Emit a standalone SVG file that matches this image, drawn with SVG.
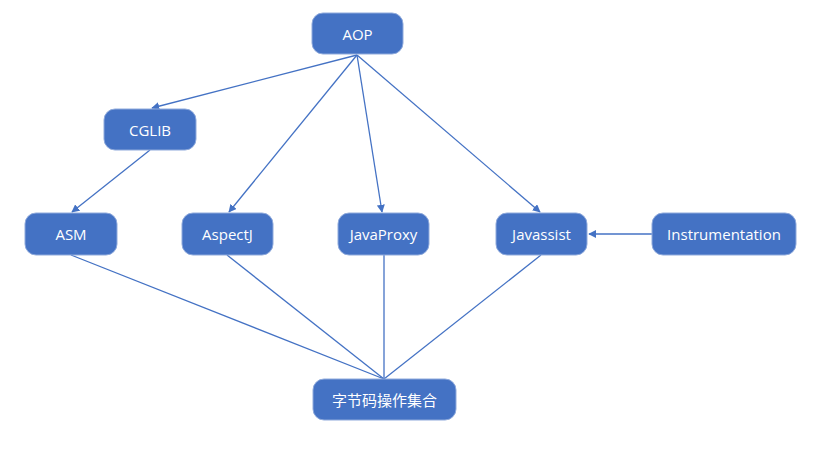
<svg xmlns="http://www.w3.org/2000/svg" width="822" height="452" viewBox="0 0 822 452">
<style>
.n rect{fill:#4472C4;stroke:#8FAADC;stroke-width:1}
.n text{fill:#fff;font-family:"Open Sans","Noto Sans","Noto Sans CJK SC",sans-serif;font-size:15px;text-anchor:middle;dominant-baseline:central}
.e line{stroke:#4472C4;stroke-width:1.3;fill:none}
</style>
<defs>
<marker id="a" viewBox="0 0 10 10" refX="9" refY="5" markerWidth="8" markerHeight="8" orient="auto" markerUnits="userSpaceOnUse">
<path d="M0,0 L10,5 L0,10 z" fill="#4472C4"/>
</marker>
</defs>
<rect width="822" height="452" fill="#fff"/>
<g class="e">
<line x1="357" y1="55" x2="152" y2="108" marker-end="url(#a)"/>
<line x1="357" y1="55" x2="229" y2="212" marker-end="url(#a)"/>
<line x1="357" y1="55" x2="382" y2="212" marker-end="url(#a)"/>
<line x1="357" y1="55" x2="540" y2="212" marker-end="url(#a)"/>
<line x1="150" y1="150" x2="72" y2="212" marker-end="url(#a)"/>
<line x1="652" y1="234" x2="589" y2="234" marker-end="url(#a)"/>
<line x1="71" y1="255" x2="384" y2="379"/>
<line x1="227" y1="255" x2="384" y2="379"/>
<line x1="384" y1="255" x2="384" y2="379"/>
<line x1="541" y1="255" x2="384" y2="379"/>
</g>
<g id="aop" class="n"><rect x="312" y="13" width="91" height="41" rx="11"/><text x="357.5" y="33.5">AOP</text></g>
<g id="cglib" class="n"><rect x="104" y="109" width="92" height="41" rx="11"/><text x="150" y="129.5">CGLIB</text></g>
<g id="asm" class="n"><rect x="25" y="213" width="92" height="42" rx="11"/><text x="71" y="234">ASM</text></g>
<g id="aspectj" class="n"><rect x="182" y="213" width="91" height="42" rx="11"/><text x="227.5" y="234">AspectJ</text></g>
<g id="javaproxy" class="n"><rect x="338" y="213" width="91" height="42" rx="11"/><text x="383.5" y="234">JavaProxy</text></g>
<g id="javassist" class="n"><rect x="496" y="213" width="91" height="42" rx="11"/><text x="541.5" y="234">Javassist</text></g>
<g id="instrumentation" class="n"><rect x="652" y="213" width="144" height="42" rx="11"/><text x="724" y="234">Instrumentation</text></g>
<g id="bytecode" class="n"><rect x="313" y="379" width="143" height="41" rx="11"/><text x="384.5" y="399.5">字节码操作集合</text></g>
</svg>
